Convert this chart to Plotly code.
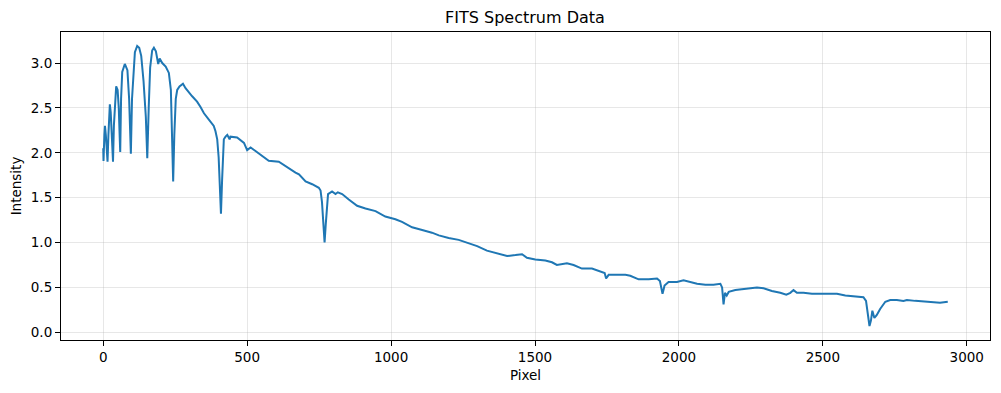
import plotly.graph_objects as go

pixel = [0, 1, 4, 6, 9, 13, 15, 18, 21, 23, 26, 31, 34, 37, 41, 45, 50, 54, 57, 59,
         62, 66, 75, 84, 90, 96, 100, 105, 110, 118, 125, 132, 140, 148, 153,
         158, 163, 170, 176, 183, 191, 196, 205, 217, 228, 235, 240, 243, 247, 252,
         257, 265, 277, 286, 309, 326, 338, 350, 367, 384, 390, 396, 401, 405, 409,
         413, 416, 419, 425, 431, 439, 442, 465, 489, 500, 512, 529, 552, 575, 610,
         633, 668, 680, 703, 726, 749, 755, 760, 765, 769, 773, 777, 781, 795, 807,
         815, 830, 853, 882, 911, 946, 980, 1015, 1038, 1073, 1108, 1142, 1166, 1200,
         1235, 1270, 1299, 1333, 1368, 1403, 1432, 1455, 1472, 1501, 1536, 1559, 1576,
         1611, 1634, 1663, 1698, 1727, 1742, 1747, 1756, 1785, 1814, 1831, 1860, 1895,
         1924, 1934, 1940, 1943, 1947, 1950, 1964, 1993, 2016, 2040, 2063, 2092, 2120,
         2144, 2150, 2155, 2160, 2166, 2173, 2196, 2225, 2248, 2271, 2294, 2323, 2352,
         2373, 2387, 2398, 2410, 2433, 2462, 2497, 2520, 2549, 2578, 2613, 2641, 2650,
         2655, 2662, 2667, 2672, 2679, 2687, 2699, 2717, 2734, 2757, 2780, 2792, 2821,
         2856, 2884, 2907, 2934]

intensity = [2.05, 1.91, 2.20, 2.30, 2.20, 1.95, 1.90, 2.20, 2.45, 2.54, 2.45, 2.10, 1.90, 2.30, 2.60, 2.74, 2.70, 2.50, 2.20, 2.01,
             2.60, 2.90, 2.99, 2.92, 2.60, 1.99, 2.60, 2.95, 3.12, 3.19, 3.17, 3.08, 2.80, 2.40, 1.94,
             2.50, 2.95, 3.14, 3.17, 3.13, 2.99, 3.05, 3.00, 2.96, 2.89, 2.70, 2.10, 1.68, 2.20, 2.60,
             2.70, 2.74, 2.77, 2.72, 2.63, 2.57, 2.51, 2.44, 2.37, 2.30, 2.24, 2.15, 1.95, 1.60, 1.32,
             1.70, 2.00, 2.15, 2.18, 2.20, 2.15, 2.18, 2.17, 2.11, 2.03, 2.06, 2.02, 1.97, 1.91, 1.90,
             1.85, 1.78, 1.76, 1.68, 1.65, 1.61, 1.58, 1.45, 1.20, 1.00, 1.20, 1.45, 1.54, 1.57, 1.54,
             1.56, 1.54, 1.48, 1.41, 1.38, 1.35, 1.29, 1.26, 1.23, 1.17, 1.14, 1.11, 1.08, 1.05,
             1.03, 0.99, 0.96, 0.91, 0.88, 0.85, 0.86, 0.87, 0.83, 0.81, 0.80, 0.78, 0.75,
             0.77, 0.75, 0.71, 0.71, 0.68, 0.66, 0.60, 0.64, 0.64, 0.64, 0.63, 0.59, 0.59,
             0.60, 0.57, 0.47, 0.43, 0.48, 0.52, 0.56, 0.56, 0.58, 0.56, 0.54, 0.53, 0.53,
             0.54, 0.50, 0.31, 0.44, 0.41, 0.45, 0.47, 0.48, 0.49, 0.50, 0.49, 0.46, 0.44,
             0.42, 0.44, 0.47, 0.44, 0.44, 0.43, 0.43, 0.43, 0.43, 0.41, 0.40, 0.39, 0.35,
             0.22, 0.07, 0.13, 0.24, 0.16, 0.19, 0.26, 0.34, 0.36, 0.36, 0.35, 0.36, 0.35,
             0.34, 0.33, 0.33, 0.34]

x_ticks = [0, 500, 1000, 1500, 2000, 2500, 3000]
y_ticks = [0.0, 0.5, 1.0, 1.5, 2.0, 2.5, 3.0]
y_tick_text = ["0.0", "0.5", "1.0", "1.5", "2.0", "2.5", "3.0"]

xmin, xmax = min(pixel), max(pixel)
ymin, ymax = min(intensity), max(intensity)
xpad = 0.05 * (xmax - xmin)
ypad = 0.05 * (ymax - ymin)

FONT = "DejaVu Sans"

fig = go.Figure()
fig.add_trace(go.Scatter(x=pixel, y=intensity, mode="lines",
                         line=dict(color="#1f77b4", width=2)))

axis_common = dict(
    showline=True, linecolor="black", linewidth=1.1, mirror=True,
    ticks="outside", ticklen=5, tickwidth=1.1, tickcolor="black",
    showgrid=True, gridcolor="rgba(176,176,176,0.3)", gridwidth=1.1,
    zeroline=False, automargin=False,
    tickfont=dict(family=FONT, size=13.5, color="black"),
)

# the page body adds an 8px offset, so margins are compensated
fig.update_layout(
    width=1001, height=393,
    margin=dict(l=53, r=19, t=24, b=61),
    paper_bgcolor="white", plot_bgcolor="white",
    showlegend=False,
    title=dict(text="FITS Spectrum Data", x=(525 - 8) / 1001, xanchor="center",
               y=1 - 9 / 393, yanchor="middle", yref="container",
               font=dict(family=FONT, size=16, color="black")),
    font=dict(family=FONT, color="black"),
)
fig.update_xaxes(range=[xmin - xpad, xmax + xpad], tickvals=x_ticks,
                 title=dict(text="Pixel", font=dict(family=FONT, size=13.5, color="black"), standoff=6),
                 **axis_common)
fig.update_yaxes(range=[ymin - ypad, ymax + ypad], tickvals=y_ticks, ticktext=y_tick_text,
                 title=dict(text="Intensity", font=dict(family=FONT, size=13.5, color="black"), standoff=6),
                 **axis_common)

fig.write_html("out.html")
